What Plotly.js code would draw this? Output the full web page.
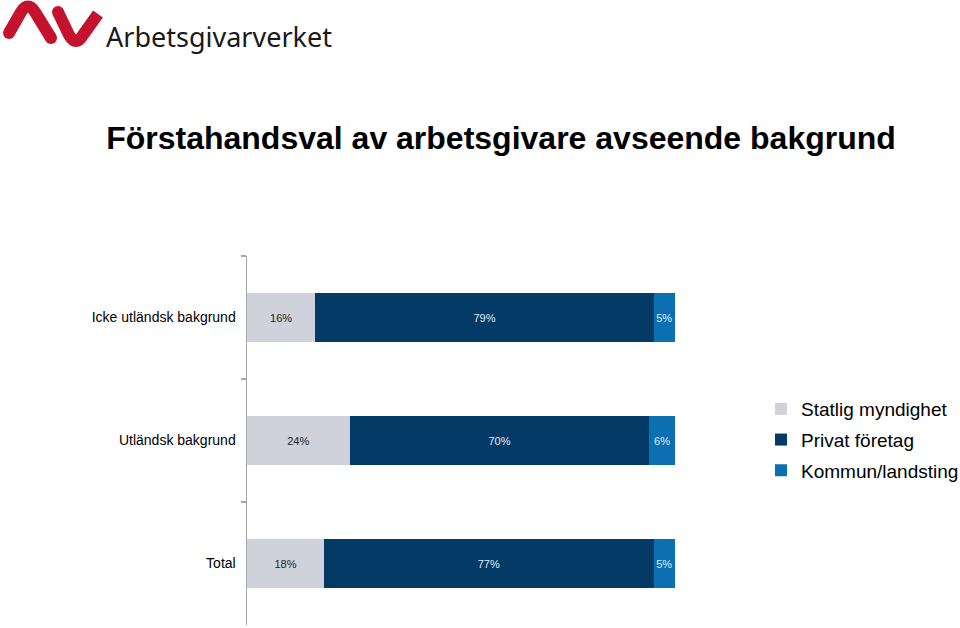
<!DOCTYPE html>
<html>
<head>
<meta charset="utf-8">
<script src="https://cdn.plot.ly/plotly-3.0.1.min.js"></script>
<style>html,body{margin:0;padding:0;background:#fff;}#chart{width:960px;height:628px;}</style>
</head>
<body>
<div id="chart"></div>
<script>
const categories = ["Icke utländsk bakgrund", "Utländsk bakgrund", "Total"];
const seriesNames = ["Statlig myndighet", "Privat företag", "Kommun/landsting"];
const statlig = [16, 24, 18];
const privat = [79, 70, 77];
const kommun = [5, 6, 5];
const titleText = "Förstahandsval av arbetsgivare avseende bakgrund";
const logoText = "Arbetsgivarverket";

const colors = ["#cfd2da", "#033a66", "#0b6fb2"];
const textColors = ["#222222", "#e4eaf2", "#e4eaf2"];
const seriesValues = [statlig, privat, kommun];

const W = 960, H = 628;
const M = {l: 247, r: 285, t: 256, b: 3};
const pw = W - M.l - M.r, ph = H - M.t - M.b;
const px = x => (x - M.l) / pw;
const py = y => (H - M.b - y) / ph;

const traces = seriesNames.map((name, i) => ({
  type: "bar",
  orientation: "h",
  name: name,
  y: categories,
  x: seriesValues[i],
  text: seriesValues[i].map(v => v + "%"),
  textposition: "inside",
  insidetextanchor: "middle",
  textangle: 0,
  constraintext: "none",
  cliponaxis: false,
  textfont: {family: "Liberation Sans, Arial, sans-serif", size: 11, color: textColors[i]},
  marker: {color: colors[i], line: {width: 0}},
  legendgroup: "g" + i,
  hoverinfo: "none"
}));

function pathFromPx(pts) {
  return pts.map((p, k) => (k === 0 ? "M " : (p.length === 4 ? "Q " : "L ")) +
    (p.length === 4 ? px(p[0]) + "," + py(p[1]) + " " + px(p[2]) + "," + py(p[3]) : px(p[0]) + "," + py(p[1]))).join(" ");
}
function capPx(cx, cy, r) {
  return {type: "circle", xref: "paper", yref: "paper", x0: px(cx - r), x1: px(cx + r), y0: py(cy + r), y1: py(cy - r),
          fillcolor: "#c4122f", line: {width: 0}};
}

const logo1 = pathFromPx([[9, 33], [21, 12], [28, 1, 35, 12], [51, 38]]);
const logo2 = pathFromPx([[58, 12], [69, 35], [76, 47, 83, 35], [98, 14]]);

const layout = {
  width: W, height: H,
  margin: M,
  paper_bgcolor: "#ffffff",
  plot_bgcolor: "#ffffff",
  barmode: "stack",
  bargap: 0.6,
  showlegend: true,
  font: {family: "Liberation Sans, Arial, sans-serif", color: "#000"},
  title: {
    text: "<b>" + titleText + "</b>",
    font: {family: "Liberation Sans, Arial, sans-serif", size: 32, color: "#000"},
    x: 501 / W, xanchor: "center", xref: "container",
    y: 1 - 138 / H, yanchor: "middle", yref: "container"
  },
  xaxis: {
    range: [0, 100], visible: false, fixedrange: true
  },
  yaxis: {
    type: "category",
    autorange: "reversed",
    showline: true, linecolor: "#a6a6a6", linewidth: 1.5,
    ticks: "outside", tickson: "boundaries", ticklen: 5, tickcolor: "#a6a6a6", tickwidth: 1.5,
    showgrid: false, zeroline: false,
    tickfont: {family: "Liberation Sans, Arial, sans-serif", size: 14, color: "#000"},
    ticklabelstandoff: 7
  },
  legend: {
    xref: "container", yref: "container",
    x: 761 / W, xanchor: "left",
    y: 1 - 390 / H, yanchor: "top",
    traceorder: "grouped",
    tracegroupgap: 3,
    font: {family: "Liberation Sans, Arial, sans-serif", size: 19, color: "#000"},
    itemwidth: 30,
    bgcolor: "rgba(0,0,0,0)"
  },
  shapes: [
    {type: "path", xref: "paper", yref: "paper", path: logo1, line: {color: "#c4122f", width: 12}},
    {type: "path", xref: "paper", yref: "paper", path: logo2, line: {color: "#c4122f", width: 12}},
    capPx(9, 33, 6), capPx(51, 38, 6), capPx(58, 12, 6)
  ],
  annotations: [
    {text: logoText, xref: "paper", yref: "paper", x: px(104), y: py(36), xanchor: "left", yanchor: "middle",
     showarrow: false, font: {family: "Noto Sans, sans-serif", size: 27, color: "#1a1a1a"}}
  ]
};

Plotly.newPlot("chart", traces, layout, {displayModeBar: false, staticPlot: true});
</script>
</body>
</html>
